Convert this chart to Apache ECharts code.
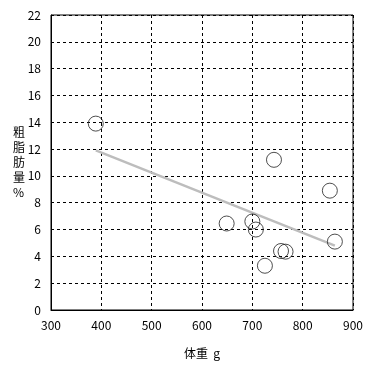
<!DOCTYPE html>
<html><head><meta charset="utf-8">
<script src="https://cdn.jsdelivr.net/npm/echarts@6/dist/echarts.min.js"></script>
<style>html,body{margin:0;padding:0;background:#fff}#c{width:371px;height:367px}</style>
</head><body><div id="c"></div>
<script>
const xTicks = [300, 400, 500, 600, 700, 800, 900];
const yTicks = [0, 2, 4, 6, 8, 10, 12, 14, 16, 18, 20, 22];
const weight = [389, 743, 854, 649, 700, 707, 864, 757, 766, 725];
const fat = [13.9, 11.2, 8.9, 6.45, 6.6, 6.0, 5.1, 4.4, 4.35, 3.3];
const trendX = [389, 864];
const trendY = [11.9, 4.8];
const xName = '体重  g';
const yName = '粗脂肪量%';

const FONT = '"Noto Sans CJK JP", "Liberation Sans", sans-serif';
const chart = echarts.init(document.getElementById('c'));
chart.setOption({
  animation: false,
  backgroundColor: '#fff',
  grid: { left: 51, top: 15, width: 302, height: 295, show: true, borderColor: '#000', borderWidth: 1, backgroundColor: 'transparent' },
  xAxis: {
    type: 'value', min: xTicks[0], max: xTicks[xTicks.length - 1], interval: 100,
    axisLine: { show: true, lineStyle: { color: '#000' } },
    axisTick: { show: false },
    axisLabel: { color: '#000', fontSize: 12, fontFamily: FONT, margin: 9 },
    splitLine: { show: true, lineStyle: { color: '#000', type: [3, 3], width: 1 } },
    name: xName, nameLocation: 'middle', nameGap: 37,
    nameTextStyle: { color: '#000', fontSize: 12, fontFamily: FONT }
  },
  yAxis: {
    type: 'value', min: yTicks[0], max: yTicks[yTicks.length - 1], interval: 2,
    axisLine: { show: true, lineStyle: { color: '#000' } },
    axisTick: { show: false },
    axisLabel: { color: '#000', fontSize: 12, fontFamily: FONT, margin: 10 },
    splitLine: { show: true, lineStyle: { color: '#000', type: [3, 3], width: 1 } }
  },
  graphic: [{
    type: 'text', left: 13, top: 125,
    style: { text: yName.split('').join('\n'), fill: '#000', font: '12px ' + FONT, lineHeight: 15, align: 'center' }
  }],
  series: [
    {
      type: 'line', data: trendX.map((x, i) => [x, trendY[i]]), symbol: 'none',
      lineStyle: { color: '#bdbdbd', width: 2.5 }, z: 2
    },
    {
      type: 'scatter', data: weight.map((x, i) => [x, fat[i]]), symbol: 'circle', symbolSize: 15,
      itemStyle: { color: 'rgba(255,255,255,0)', borderColor: '#222', borderWidth: 1 }, z: 3
    }
  ]
});
</script></body></html>
